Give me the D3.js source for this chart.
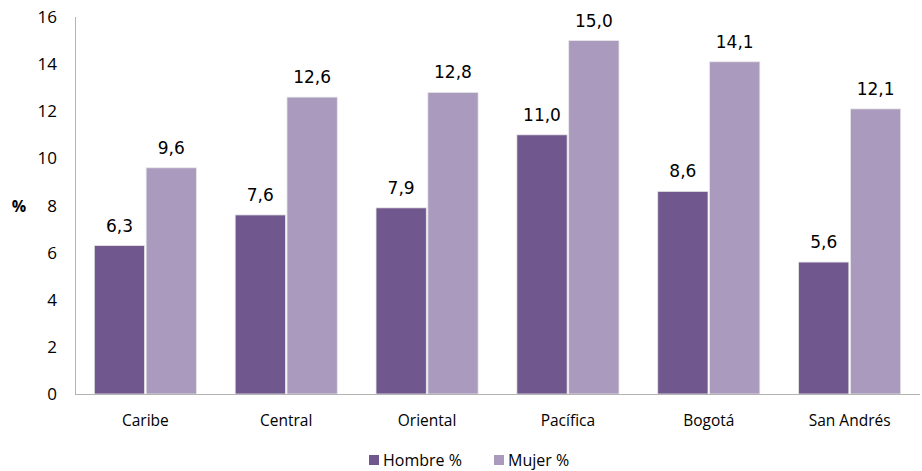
<!DOCTYPE html>
<html>
<head>
<meta charset="utf-8">
<script src="https://cdn.jsdelivr.net/npm/d3@7"></script>
<style>
  body { margin: 0; background: #fff; }
  svg { display: block; }
</style>
</head>
<body>
<svg width="922" height="471"></svg>
<script>
// regions and values (%)
var regiones = ["Caribe", "Central", "Oriental", "Pacífica", "Bogotá", "San Andrés"];
var hombre = [6.3, 7.6, 7.9, 11.0, 8.6, 5.6];
var mujer = [9.6, 12.6, 12.8, 15.0, 14.1, 12.1];
var series = ["Hombre %", "Mujer %"];
var colores = ["#70588e", "#a99abe"];
var yTicks = [0, 2, 4, 6, 8, 10, 12, 14, 16];

var svg = d3.select("svg");
// note: "top" is taken by window.top, so use plot* names
var plotLeft = 75, plotRight = 920, plotTop = 17, plotBottom = 394;

var x = d3.scaleBand().domain(regiones).range([plotLeft, plotRight]).paddingInner(0.275).paddingOuter(0.137);
var x1 = d3.scaleBand().domain(series).range([0, x.bandwidth()]).paddingInner(0.03);
var y = d3.scaleLinear().domain([0, 16]).range([plotBottom, plotTop]);

var numFont = "Open Sans, Lato, sans-serif";
var labelFont = "DejaVu Sans, Verdana, sans-serif";

// y axis
svg.append("line")
  .attr("x1", plotLeft + 0.5).attr("x2", plotLeft + 0.5)
  .attr("y1", y(16)).attr("y2", plotBottom)
  .attr("stroke", "#b3b3b3");

svg.selectAll(".ytick").data(yTicks).enter().append("text")
  .attr("class", "ytick")
  .attr("x", 57).attr("y", function(d) { return y(d) + 6; })
  .attr("text-anchor", "end")
  .attr("font-family", numFont).attr("font-size", 17).attr("fill", "#000")
  .text(function(d) { return d; });

svg.append("text")
  .attr("x", 19).attr("y", y(8) + 6)
  .attr("text-anchor", "middle")
  .attr("font-family", numFont).attr("font-size", 16).attr("font-weight", "bold")
  .text("%");

var data = regiones.map(function(r, i) {
  return { region: r, values: [hombre[i], mujer[i]] };
});

var groups = svg.selectAll(".grupo").data(data).enter().append("g")
  .attr("class", "grupo")
  .attr("transform", function(d) { return "translate(" + x(d.region) + ",0)"; });

groups.selectAll("rect").data(function(d) {
  return d.values.map(function(v, j) { return { s: series[j], v: v, c: colores[j] }; });
}).enter().append("rect")
  .attr("x", function(d) { return x1(d.s); })
  .attr("y", function(d) { return y(d.v); })
  .attr("width", x1.bandwidth())
  .attr("height", function(d) { return plotBottom - y(d.v); })
  .attr("fill", function(d) { return d.c; })
  .attr("stroke", "#e8e8e8").attr("stroke-width", 0.8);

groups.selectAll(".val").data(function(d) {
  return d.values.map(function(v, j) { return { s: series[j], v: v }; });
}).enter().append("text")
  .attr("class", "val")
  .attr("x", function(d) { return x1(d.s) + x1.bandwidth() / 2; })
  .attr("y", function(d) { return y(d.v) - 14; })
  .attr("text-anchor", "middle")
  .attr("font-family", labelFont).attr("font-size", 17).attr("fill", "#000")
  .text(function(d) { return d.v.toFixed(1).replace(".", ","); });

// x axis
svg.append("line")
  .attr("x1", plotLeft).attr("x2", plotRight)
  .attr("y1", plotBottom + 0.5).attr("y2", plotBottom + 0.5)
  .attr("stroke", "#b3b3b3");

svg.selectAll(".xlab").data(regiones).enter().append("text")
  .attr("class", "xlab")
  .attr("x", function(d) { return x(d) + x.bandwidth() / 2; })
  .attr("y", 426)
  .attr("text-anchor", "middle")
  .attr("font-family", numFont).attr("font-size", 15.5).attr("fill", "#000")
  .text(function(d) { return d; });

// legend
var legX = [369, 494];
var leg = svg.selectAll(".leg").data(series).enter().append("g")
  .attr("class", "leg")
  .attr("transform", function(d, i) { return "translate(" + legX[i] + ",455)"; });
leg.append("rect").attr("width", 10).attr("height", 10)
  .attr("fill", function(d, i) { return colores[i]; });
leg.append("text").attr("x", 14).attr("y", 10.5)
  .attr("font-family", numFont).attr("font-size", 16).attr("fill", "#000")
  .text(function(d) { return d; });
</script>
</body>
</html>
